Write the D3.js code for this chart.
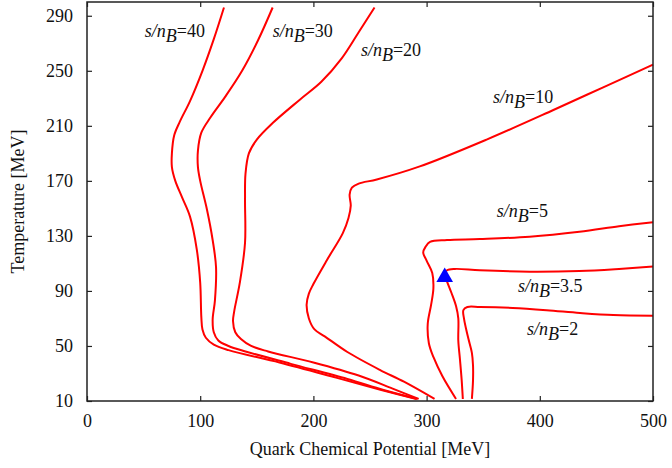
<!doctype html>
<html lang="en">
  <head>
    <meta charset="utf-8">
    <title>Isentropic trajectories</title>
    <style>
      body { margin: 0; background: #fff; }
      svg text { font-family: "Liberation Serif", "Times New Roman", serif; font-size: 18px; fill: #111; }
    </style>
  </head>
  <body>
    <script src="https://cdn.jsdelivr.net/npm/d3@7/dist/d3.min.js"></script>
    <script>

// tick values
var xTicks = [0, 100, 200, 300, 400, 500];
var yTicks = [10, 50, 90, 130, 170, 210, 250, 290];

// curve names (s/nB) and their points [mu, T]
var ratios = ["40", "30", "20", "10", "5", "3.5", "2"];

var s40 = [[121,296],[112,273],[102,250],[91,228],[82,213],[77,203],[75,190],[75,180],[78,170],[84,158],[91,144],[97,120],[100,96],[101,71],[102,62],[105,56],[112,51],[125,47],[170,38],[220,27],[260,18],[291,11.5]];
var s30 = [[164,296],[151,272],[137,250],[122,231],[109,216],[101,205],[98,192],[98,180],[100,170],[106,149],[111,127],[114,107],[113,83],[111,69],[112,60],[116,54],[125,50],[140,46],[180,37],[230,26],[262,18],[292,11.5]];
var s20 = [[254,296],[240,278],[225,259],[207,242],[188,229],[164,212],[150,200],[143,190],[140,175],[139.6,156],[139.6,125],[135,96],[130,75],[129,68],[131,60],[136,55],[145,50],[160,46],[200,38],[240,28.5],[270,19],[293,11.5]];
var s10 = [[307,11.5],[280,24],[259,32.5],[230,45.6],[210,57],[201,62],[196,70],[194,80],[196,88],[200,95],[212,112.5],[226,132],[231,143],[233,152],[232,160],[234,165],[240,168],[256,171],[294,180.5],[353,200],[412,221.5],[456,238],[500,254.5]];
var s5 = [[500,140],[470,137],[435,133],[391,129.4],[347,127.7],[318,127],[303,125.6],[299,122],[297,118],[300,112],[305,103],[306,92],[304,80],[301,66],[302,52],[306,42],[314,28],[326,11.5]];
var s35 = [[500,107.7],[470,106],[435,104.5],[391,104],[347,105],[325,106],[318,105],[316,102],[318,97],[322,88.5],[326,79],[328,70],[328,54],[329.5,40],[331,25],[332,11.5]];
var s2 = [[500,72],[465,72.5],[435.5,74],[406,76],[376,77.6],[347,78.3],[336,78.3],[332.5,76],[333,70],[335,62],[337,55],[340,45],[341,36],[341,25],[340,11.5]];

// label anchor for each curve [mu, T]
var labelPos = [[51,274.6],[164,274.6],[242,260.7],[358.7,226.6],[362,143.7],[380.7,89.2],[388.7,58]];

// critical end point
var cep = [316, 100];

var curves = [s40, s30, s20, s10, s5, s35, s2];

var width = 672, height = 468;
var margin = {top: 2, right: 19, bottom: 67, left: 87};
var w = width - margin.left - margin.right,
    h = height - margin.top - margin.bottom;

var svg = d3.select("body")
    .append("svg")
    .attr("width", width)
    .attr("height", height);

var chart = svg.append("g")
    .attr("transform", "translate(" + margin.left + "," + margin.top + ")");

var x = d3.scaleLinear().domain([0, 500]).range([0, w]);
var y = d3.scaleLinear().domain([10, 300]).range([h, 0]);

var line = d3.line()
    .x(function(d){ return x(d[0]); })
    .y(function(d){ return y(d[1]); })
    .curve(d3.curveCatmullRom.alpha(0.5));

chart.selectAll(".curve")
    .data(curves)
    .enter()
    .append("path")
    .attr("class", "curve")
    .attr("d", line)
    .attr("fill", "none")
    .attr("stroke", "#ff0000")
    .attr("stroke-width", 2);

// axes: ticks point inward, labels only on left / bottom
chart.append("g")
    .attr("transform", "translate(0," + h + ")")
    .call(d3.axisBottom(x).tickValues(xTicks).tickSizeInner(-5).tickSizeOuter(0).tickPadding(13));
chart.append("g")
    .call(d3.axisLeft(y).tickValues(yTicks).tickSizeInner(-5).tickSizeOuter(0).tickPadding(14));
chart.append("g")
    .call(d3.axisTop(x).tickValues(xTicks).tickSizeInner(-5).tickSizeOuter(0).tickFormat(""));
chart.append("g")
    .attr("transform", "translate(" + w + ",0)")
    .call(d3.axisRight(y).tickValues(yTicks).tickSizeInner(-5).tickSizeOuter(0).tickFormat(""));

chart.selectAll(".domain").remove();
chart.selectAll(".tick line").attr("stroke", "#222").attr("stroke-width", 1.2);
chart.selectAll(".tick text")
    .style("font-family", "'Liberation Serif', 'Times New Roman', serif")
    .style("font-size", "18px")
    .attr("fill", "#111");

chart.append("rect")
    .attr("width", w)
    .attr("height", h)
    .attr("fill", "none")
    .attr("stroke", "#222")
    .attr("stroke-width", 1.5);

// curve labels
var labels = chart.selectAll(".lbl")
    .data(ratios)
    .enter()
    .append("text")
    .attr("class", "lbl")
    .attr("x", function(d, i){ return x(labelPos[i][0]); })
    .attr("y", function(d, i){ return y(labelPos[i][1]); });
labels.append("tspan").style("font-style", "italic").text("s/n");
labels.append("tspan").style("font-style", "italic").attr("dy", 5).text("B");
labels.append("tspan").attr("dy", -5).text(function(d){ return "=" + d; });

// critical point marker
chart.append("path")
    .attr("d", d3.symbol().type(d3.symbolTriangle).size(120))
    .attr("transform", "translate(" + x(cep[0]) + "," + y(cep[1]) + ")")
    .attr("fill", "#0000ff");

// axis titles
svg.append("text")
    .attr("x", margin.left + w / 2)
    .attr("y", 455)
    .attr("text-anchor", "middle")
    .text("Quark Chemical Potential [MeV]");

svg.append("text")
    .attr("transform", "translate(24," + (margin.top + h / 2) + ") rotate(-90)")
    .attr("text-anchor", "middle")
    .text("Temperature [MeV]");

    </script>
  </body>
</html>
